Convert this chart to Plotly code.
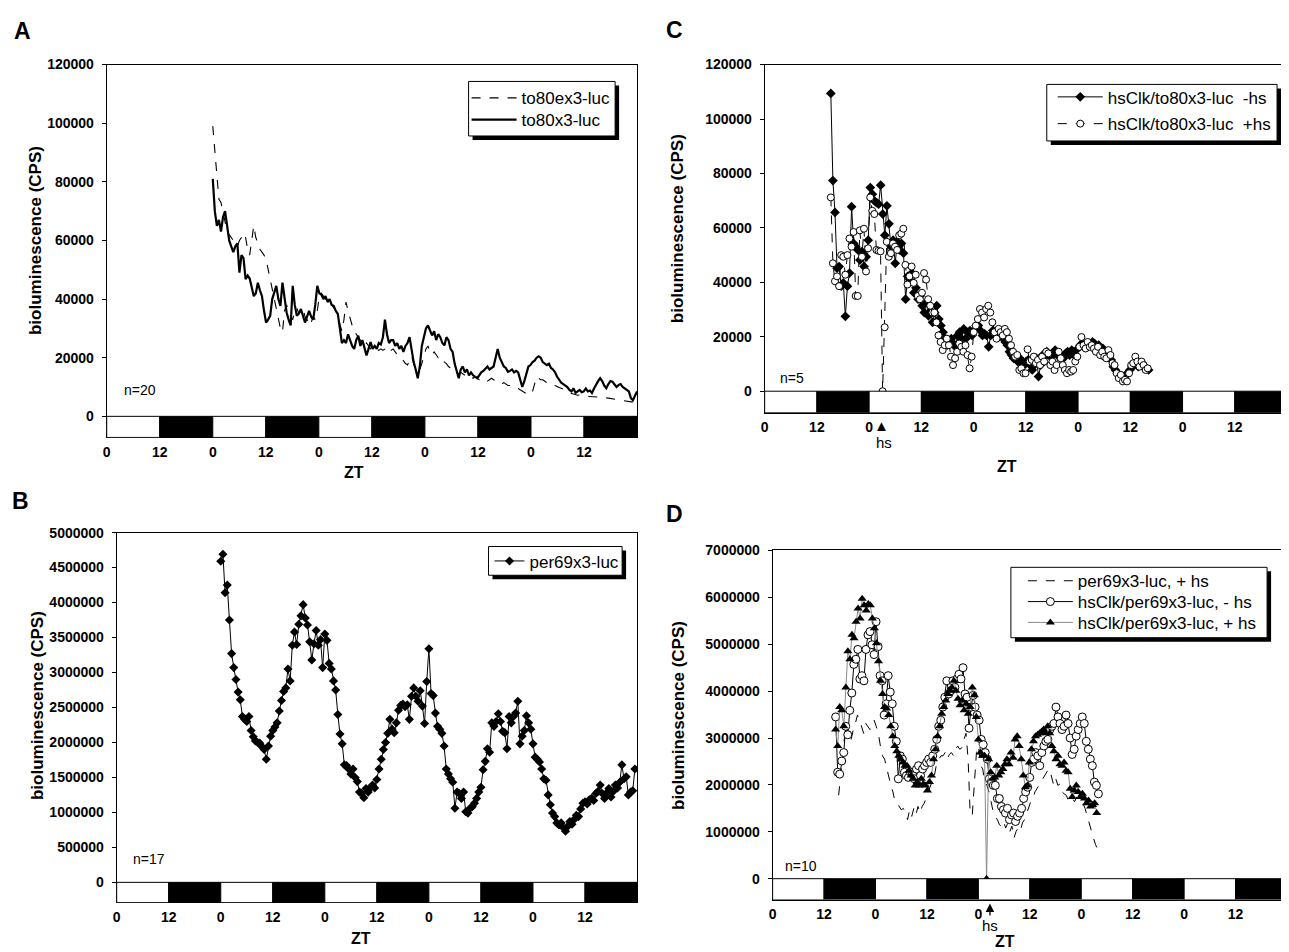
import numpy as np
import plotly.graph_objects as go

W, H = 1289, 952
OFF = 8  # default page margin of the written html

# ---------------- data ----------------
zt_tick_hours = [0, 12, 24, 36, 48, 60, 72, 84, 96, 108]
zt_tick_labels = ["0", "12", "0", "12", "0", "12", "0", "12", "0", "12"]
ld_edges = [0, 12, 24, 36, 48, 60, 72, 84, 96, 108, 120]
ld_fill = ["white", "black"] * 5

# Panel A (x1000 CPS), evenly sampled from hour 24 to 120
a_span = (24, 120)
a_to80ex3 = [99, 90, 80, 74, 73, 70, 66, 63, 62, 61,
             60, 59, 58, 60, 61, 62.5, 61, 57, 55, 60,
             65, 61, 59, 57, 56, 55, 53.5, 50, 46.8, 43,
             40, 37, 33, 30, 28.7, 36, 38, 36, 34, 33,
             36, 37, 35, 36, 37, 34, 33, 31, 32, 34,
             33, 36, 41, 42, 41, 40, 40, 39, 38, 37,
             36, 34, 31, 29, 33, 39, 36, 33, 31, 29,
             28, 27, 26, 25, 24, 25, 24, 23, 24, 23.5,
             23, 22.5, 23, 22.5, 23, 24, 23, 22.5, 23, 22,
             21, 20, 19.5, 19, 18, 17.5, 19, 20.5, 18, 16,
             15.5, 16, 18, 21, 23, 24, 22, 21, 22, 21,
             20, 20.5, 19, 18.5, 18, 17, 16.5, 16, 15.5, 15,
             14.5, 15, 14.5, 14, 14.5, 14, 13.5, 13, 13.5, 13,
             12.5, 12.5, 12, 12.5, 12, 12.5, 13, 12.5, 12, 12,
             11.5, 11, 11.5, 11, 10.5, 10.5, 10, 10, 9.5, 9.5,
             9, 8.5, 8, 7.5, 7.3, 7.5, 8.5, 11, 13.5, 13,
             12.5, 12.5, 12, 11.5, 11.5, 11, 10.5, 10.5, 10, 9.8,
             9.6, 9.3, 9, 8.5, 8, 7.8, 7.5, 7.3, 7.2, 7.3,
             7.0, 6.9, 6.8, 6.8, 6.8, 6.7, 6.7, 6.6, 6.6, 6.5,
             6.5, 6.4, 6.3, 6.2, 6.1, 6.0, 5.9, 5.8, 5.7, 5.6,
             5.5, 5.4, 5.3, 5.2, 5.1, 5.0, 4.8, 4.6]
a_to80x3 = [81, 70, 65, 67, 63, 68, 70, 64, 60, 58,
            56, 58, 59, 49, 55, 54, 46.8, 48, 47, 44,
            41, 42, 45.6, 43, 41, 36, 32, 33, 34.3, 40,
            42, 44.5, 40, 37.7, 45.6, 40, 35.5, 33, 31, 44.5,
            38, 34.3, 35, 36.6, 34, 32, 34, 36, 34, 33,
            38, 44.5, 42, 41.5, 40, 41, 39, 40, 38, 37.7,
            36, 35, 30, 25, 26, 25, 28, 26, 24, 23,
            26, 27.5, 24, 26, 23, 20.8, 23, 25.3, 23, 24,
            23, 25, 24.5, 27, 33, 28, 25, 26, 26, 24,
            25, 23, 24, 22, 24, 25, 27, 22, 18.6, 16,
            13, 17, 24, 27, 30, 31, 29, 27.6, 29, 26,
            28, 27, 25, 24.2, 27, 26, 23, 22, 18, 15,
            13, 16, 17, 15, 16, 14, 15, 14, 13.5, 13,
            14, 15, 15.5, 16.3, 17, 16, 16.5, 17, 20, 23,
            20, 18.6, 17, 16.5, 15.2, 15.5, 16, 15, 15.5, 15,
            12, 10, 12, 15, 17, 17.5, 18.5, 19, 20, 20.5,
            20, 18.5, 18, 17.5, 18, 16.5, 16, 15, 13.5, 12.4,
            11.5, 11, 10.5, 10, 9, 8.5, 9.5, 8, 8.5, 9,
            8.2, 8.5, 9.5, 8.5, 8.8, 8, 9.5, 11, 12, 13,
            12, 10.5, 9.6, 11, 12, 11.8, 11, 10, 10.7, 11,
            10, 9.6, 9, 8.5, 6.2, 5.5, 7, 8.5]

# Panel B (x1e6 CPS), hour 24 onward every 0.5 h
b_start, b_step = 24, 0.5
b_per69 = [4.59, 4.69, 4.14, 4.25, 3.75, 3.27, 3.07, 2.90, 2.72, 2.61, 2.37, 2.33, 2.30, 2.37, 2.17, 2.08,
           2.02, 2.00, 1.99, 1.94, 1.90, 1.76,
           1.95, 2.09, 2.17, 2.22, 2.28, 2.45, 2.60, 2.73, 2.78, 3.05, 2.88, 3.39, 3.58, 3.40, 3.69, 3.81,
           3.97, 3.78, 3.68, 3.44, 3.18, 3.41, 3.60, 3.39, 3.47, 3.07, 3.55, 3.46, 3.13, 3.05, 2.88, 2.75,
           2.40, 2.12, 1.98, 1.68,
           1.67, 1.62, 1.55, 1.62, 1.50, 1.44, 1.29, 1.27, 1.21, 1.34, 1.29, 1.35, 1.39, 1.35, 1.47, 1.62,
           1.76, 1.90, 2.00, 2.13, 2.33, 2.19, 2.14, 2.28, 2.46, 2.53, 2.55, 2.51, 2.54, 2.33, 2.66, 2.78,
           2.66, 2.59, 2.74, 2.52, 2.27, 2.87, 3.34,
           2.70, 2.67, 2.42, 2.23, 2.19, 2.13, 1.95, 1.62, 1.55, 1.48, 1.43, 1.06, 1.29, 1.27, 1.20, 1.29,
           1.01, 0.99, 1.06, 1.08, 1.13, 1.20, 1.29, 1.36, 1.61, 1.73, 1.91, 1.86, 2.28, 2.23, 2.30, 2.41,
           2.30, 2.16, 2.14, 1.91, 2.37, 2.28, 2.37, 2.42, 2.59, 1.98, 2.09, 2.17, 2.38, 2.28, 2.19, 1.98,
           1.79, 1.76, 1.72, 1.62, 1.48, 1.46, 1.25, 1.11, 0.99, 0.94, 0.85, 0.82, 0.85, 0.78, 0.73,
           0.80, 0.87, 0.83, 0.90, 0.96, 0.94, 1.05, 1.13, 1.15, 1.12, 1.18, 1.20, 1.17, 1.27, 1.30, 1.39,
           1.27, 1.20, 1.28, 1.34, 1.22, 1.30, 1.39, 1.35, 1.43, 1.68, 1.48, 1.51, 1.25, 1.29, 1.31, 1.62]

# Panel C (x1000 CPS), evenly sampled over the given hour spans
c_minus_span = (15.2, 88.2)
c_minus = [109.4, 77.4, 65.7, 45.2, 45.8, 38.6, 39.8, 27.5, 38.6, 43.4,
           67.8, 54.3, 53.1, 51.9, 48.2, 51.3, 45.8, 49.4, 55.5, 74.8,
           72.4, 69.9, 69.3, 68.7, 75.7, 65.1, 57.3, 68.1, 61.5, 53.1,
           55.5, 47.0, 54.9, 51.9, 54.3, 50.7, 33.8, 42.2, 41.0, 43.4,
           36.2, 38.0, 33.8, 35.0, 31.4, 28.9, 32.6, 27.7, 29.5, 25.3,
           28.9, 31.4, 26.5, 24.1, 21.7, 19.3, 16.9, 18.1, 19.3, 17.5,
           16.3, 20.5, 21.7, 19.3, 22.9, 19.3, 21.7, 22.3, 20.5, 22.3,
           24.1, 24.1, 22.3, 20.5, 21.1, 20.5, 16.3, 20.5, 22.3, 21.7,
           19.9, 21.7, 20.5, 19.3, 18.1, 16.9, 14.5, 13.3, 12.1, 12.7,
           10.9, 12.1, 10.3, 9.6, 10.9, 11.5, 9.6, 7.8, 9.6, 12.1,
           5.4, 9.6, 13.3, 12.7, 14.5, 13.3, 12.7, 13.9, 15.1, 13.3,
           13.9, 12.7, 12.1, 13.9, 14.5, 13.3, 15.1, 13.9, 12.7, 15.7,
           16.9, 17.5, 16.3, 16.9, 17.5, 16.9, 18.1, 17.5, 16.3, 16.9,
           15.7, 15.7, 14.5, 13.3, 12.7, 11.5, 9.0, 7.8, 6.6, 6.0,
           4.8, 5.4, 6.0, 6.6, 7.8, 9.0, 9.6, 10.3, 9.0, 9.6,
           10.3, 9.0, 8.4, 7.8]
c_plus_span = (15.2, 88.0)
c_plus = [71.2, 47.0, 40.4, 42.2, 38.6, 50.0, 49.4, 42.8, 50.0, 56.1,
          53.1, 58.5, 35.0, 35.0, 59.1, 49.4, 59.7, 44.0, 52.5, 71.2,
          66.3, 65.1, 51.9, 51.6, 51.4, 0, 23.5, 54.9, 49.4, 50.7,
          54.3, 53.1, 51.9, 57.3, 57.9, 59.7, 46.4, 39.2, 42.2, 45.8,
          39.8, 42.8, 35.0, 33.8, 36.2, 43.4, 41.0, 33.8, 31.4, 28.9,
          28.9, 25.3, 20.5, 18.1, 15.1, 16.9, 19.3, 16.9, 12.7, 9.6,
          12.1, 14.5, 17.5, 16.3, 14.5, 16.9, 13.3, 8.4, 12.7, 21.7,
          24.1, 26.5, 30.2, 28.9, 27.1, 30.2, 31.4, 28.9, 25.3, 21.7,
          19.3, 22.9, 21.7, 20.5, 22.9, 21.7, 19.3, 16.9, 14.5, 12.7,
          13.3, 7.8, 8.4, 6.6, 6.6, 15.4, 10.9, 11.5, 12.7, 10.3,
          11.5, 9.6, 12.7, 10.9, 14.5, 13.9, 9.6, 10.9, 7.8, 9.6,
          14.5, 12.1, 9.6, 7.8, 6.6, 7.8, 7.2, 7.8, 10.9, 12.7,
          16.3, 19.9, 16.9, 15.7, 18.1, 16.3, 16.9, 15.7, 14.5, 16.3,
          13.3, 14.5, 12.7, 12.1, 15.1, 13.3, 10.3, 9.6, 6.6, 4.8,
          6.0, 3.6, 4.2, 3.6, 6.6, 9.6, 10.3, 12.7, 10.9, 9.0,
          10.9, 9.6, 7.8, 8.4]

# Panel D (x1e6 CPS)
d_dash_span = (15.4, 75.8)
d_per69_hs = [1.78, 2.20, 2.62, 3.10, 3.25, 2.90, 2.97, 3.18, 3.31, 3.49,
              3.38, 3.25, 3.10, 3.31, 3.25, 3.18, 3.25, 3.38, 3.25, 3.10,
              2.83, 2.62, 2.55, 2.34, 2.20, 1.99, 1.85, 1.64, 1.61, 1.54,
              1.47, 1.50, 1.40, 1.26, 1.47, 1.33, 1.50, 1.36, 1.54, 1.40,
              1.54, 1.61, 1.74, 1.85, 1.99, 2.13, 2.23, 2.48, 2.55, 2.62,
              2.62, 2.69, 2.55, 2.65, 2.69, 2.62, 2.76, 2.83, 2.76, 2.79,
              2.97, 3.10, 2.55, 1.36, 1.36, 2.06, 2.69, 2.83, 2.41, 2.34,
              2.06, 1.99, 1.85, 1.64, 1.43, 1.33, 1.26, 1.15, 1.12, 1.22,
              1.08, 1.19, 1.01, 1.12, 0.87, 1.01, 1.08, 1.01, 1.19, 1.26,
              1.40, 1.50, 1.64, 1.71, 1.85, 1.92, 1.99, 2.06, 2.13, 2.20,
              2.30, 2.34, 2.13, 1.99, 2.13, 1.99, 2.02, 1.85, 1.81, 1.78,
              1.67, 1.64, 1.71, 1.64, 1.74, 1.71, 1.64, 1.61, 1.50, 1.33,
              1.15, 1.01, 0.87, 0.73, 0.63]
d_minus_span = (14.7, 76.0)
d_clk_minus = [3.45, 2.27, 2.23, 2.51, 2.69, 3.25, 3.07, 3.59, 3.96, 4.57,
               4.68, 4.89, 4.26, 4.33, 4.22, 4.89, 5.20, 5.27, 4.99, 4.78,
               5.48, 4.95, 4.33, 4.22, 3.49, 3.73, 4.33, 3.98, 3.73, 3.25,
               2.93, 2.13, 2.62, 2.55, 2.27, 2.20, 2.16, 2.27, 2.23, 2.13,
               2.34, 2.41, 2.20, 2.34, 2.41, 2.48, 2.55, 2.48, 2.62, 2.76,
               2.97, 3.25, 3.38, 3.66, 3.87, 4.22, 3.94, 4.01, 4.22, 4.08,
               4.26, 4.36, 4.26, 4.50, 3.94, 3.87, 3.21, 3.66, 3.91, 3.66,
               3.49, 3.38, 2.97, 2.86, 2.69, 2.55, 2.13, 2.06, 1.99, 1.99,
               1.71, 1.71, 1.54, 1.47, 1.40, 1.50, 1.26, 1.36, 1.40, 1.22,
               1.33, 1.40, 1.50, 1.71, 1.85, 1.95, 2.16, 2.48, 2.55, 2.69,
               2.62, 2.41, 2.69, 2.83, 2.93, 2.97, 3.18, 3.25, 3.31, 3.66,
               3.45, 3.31, 3.18, 3.25, 3.49, 3.31, 3.00, 2.65, 2.76, 3.04,
               3.18, 3.31, 3.45, 3.31, 2.93, 2.76, 2.55, 2.41, 2.06, 1.99,
               1.81]
d_plus_span = (14.7, 75.6)
d_clk_plus = [3.18, 2.83, 3.66, 3.59, 3.25, 4.08, 4.85, 4.68, 5.20, 5.13,
              5.48, 5.76, 5.55, 5.97, 5.83, 5.72, 5.86, 5.83, 5.55, 5.34,
              5.02, 4.64, 4.22, 3.94, 3.66, 3.63, 3.49, 3.25, 3.04, 2.83,
              2.72, 2.62, 2.55, 2.48, 2.41, 2.41, 2.30, 2.20, 2.13, 1.99,
              2.06, 1.99, 2.13, 2.02, 1.99, 1.88, 2.06, 2.20, 2.55, 2.76,
              3.04, 3.25, 3.52, 3.66, 3.80, 3.94, 4.01, 4.08, 4.22, 4.01,
              3.84, 3.70, 3.80, 3.59, 3.73, 3.52, 3.66, 4.08, 3.91, 3.45,
              2.97, 2.69, 2.62, 2.62, 0, 2.55, 2.27, 2.13, 2.16, 2.41,
              2.20, 2.27, 2.34, 2.44, 2.55, 2.44, 2.69, 2.58, 2.97, 3.04,
              2.83, 2.55, 2.20, 1.95, 1.99, 2.48, 2.76, 2.93, 3.04, 3.07,
              3.10, 3.14, 3.18, 3.10, 3.25, 3.10, 2.83, 2.72, 2.55, 2.62,
              2.44, 2.41, 2.48, 2.30, 2.27, 1.92, 1.74, 1.88, 1.99, 1.85,
              1.74, 1.81, 1.71, 1.61, 1.67, 1.54, 1.57, 1.61, 1.40]

# ---------------- helpers ----------------
FONT = "Liberation Sans, Arial, sans-serif"


def px_x(p):
    return (p - OFF) / W


def px_y(p):
    return 1 - (p - OFF) / H


def hours(span, n):
    return np.linspace(span[0], span[1], n)


fig = go.Figure()

# Panel A
fig.add_trace(go.Scatter(x=hours(a_span, len(a_to80ex3)), y=np.array(a_to80ex3) * 1e3,
                         mode="lines", name="to80ex3-luc", legend="legend", showlegend=True,
                         line=dict(color="black", width=1.1, dash="dash"), xaxis="x", yaxis="y"))
fig.add_trace(go.Scatter(x=hours(a_span, len(a_to80x3)), y=np.array(a_to80x3) * 1e3,
                         mode="lines", name="to80x3-luc", legend="legend2",
                         line=dict(color="black", width=2.2), xaxis="x", yaxis="y"))
# Panel B
fig.add_trace(go.Scatter(x=b_start + b_step * np.arange(len(b_per69)), y=np.array(b_per69) * 1e6,
                         mode="lines+markers", name="per69x3-luc", legend="legend3",
                         line=dict(color="black", width=1),
                         marker=dict(symbol="diamond", size=7, color="black"),
                         xaxis="x2", yaxis="y2"))
# Panel C
fig.add_trace(go.Scatter(x=hours(c_minus_span, len(c_minus)), y=np.array(c_minus) * 1e3,
                         mode="lines+markers", name="hsClk/to80x3-luc\u00a0\u00a0-hs",
                         legend="legend4",
                         line=dict(color="black", width=1),
                         marker=dict(symbol="diamond", size=7.5, color="black"),
                         xaxis="x3", yaxis="y3"))
fig.add_trace(go.Scatter(x=hours(c_plus_span, len(c_plus)), y=np.array(c_plus) * 1e3,
                         mode="lines+markers", name="hsClk/to80x3-luc\u00a0\u00a0+hs",
                         legend="legend5",
                         line=dict(color="black", width=1, dash="dash"),
                         marker=dict(symbol="circle", size=7, color="white",
                                     line=dict(color="black", width=1)),
                         xaxis="x3", yaxis="y3"))
# Panel D
fig.add_trace(go.Scatter(x=hours(d_dash_span, len(d_per69_hs)), y=np.array(d_per69_hs) * 1e6,
                         mode="lines", name="per69x3-luc, + hs", legend="legend6",
                         line=dict(color="black", width=1, dash="dash"),
                         xaxis="x4", yaxis="y4"))
fig.add_trace(go.Scatter(x=hours(d_minus_span, len(d_clk_minus)), y=np.array(d_clk_minus) * 1e6,
                         mode="lines+markers", name="hsClk/per69x3-luc, - hs", legend="legend7",
                         line=dict(color="black", width=1),
                         marker=dict(symbol="circle", size=8, color="white",
                                     line=dict(color="black", width=1)),
                         xaxis="x4", yaxis="y4"))
fig.add_trace(go.Scatter(x=hours(d_plus_span, len(d_clk_plus)), y=np.array(d_clk_plus) * 1e6,
                         mode="lines+markers", name="hsClk/per69x3-luc, + hs", legend="legend8",
                         line=dict(color="#8a8a8a", width=1),
                         marker=dict(symbol="triangle-up", size=8, color="black"),
                         xaxis="x4", yaxis="y4"))

# ---------------- axes ----------------
panels = {
    # name: (left, right, top, bottom px, yrange, ytick step)
    "1": (103, 635, 57, 433, [-7200, 120000], 20000),
    "2": (113, 635, 529, 902, [-288000, 5000000], 500000),
    "3": (763, 1287, 57, 408, [-7870, 120000], 20000),
    "4": (771, 1287, 547, 899, [-444000, 7000000], 1000000),
}
tickfont = dict(family=FONT, size=14, color="black", weight="bold")
layout_axes = {}
shapes = []
for k, (l, r, t, b, yr, step) in panels.items():
    xa = "xaxis" if k == "1" else "xaxis" + k
    ya = "yaxis" if k == "1" else "yaxis" + k
    xr = "x" if k == "1" else "x" + k
    yrf = "y" if k == "1" else "y" + k
    layout_axes[xa] = dict(domain=[px_x(l), px_x(r)], range=[0, 120], anchor=yrf,
                           tickvals=zt_tick_hours, ticktext=zt_tick_labels, ticks="",
                           showgrid=False, zeroline=False, showline=True, mirror=True,
                           linecolor="black", linewidth=1, tickfont=tickfont,
                           ticklabelstandoff=2)
    layout_axes[ya] = dict(domain=[px_y(b), px_y(t)], range=yr, anchor=xr,
                           tickvals=list(np.arange(0, yr[1] + 1, step)), tickformat="d",
                           ticks="outside", ticklen=4, tickwidth=1, tickcolor="black",
                           showgrid=False, zeroline=False, showline=True, mirror=True,
                           linecolor="black", linewidth=1, tickfont=tickfont,
                           ticklabelstandoff=5)
    for i in range(len(ld_fill)):
        shapes.append(dict(type="rect", xref=xr, yref=yrf, x0=ld_edges[i], x1=ld_edges[i + 1],
                           y0=yr[0], y1=0, fillcolor=ld_fill[i],
                           line=dict(color="black", width=1), layer="above"))

# legend frames (left, right, top, bottom px) with drop shadow
legend_frames = [(466, 613, 74, 129), (486, 620, 543, 572), (1046, 1277, 77, 134), (1010, 1267, 564, 635)]
for (l, r, t, b) in legend_frames:
    shapes.append(dict(type="rect", xref="paper", yref="paper",
                       x0=px_x(l + 4), x1=px_x(r + 4), y0=px_y(b + 4), y1=px_y(t + 4),
                       fillcolor="black", line=dict(width=0), layer="above"))
    shapes.append(dict(type="rect", xref="paper", yref="paper",
                       x0=px_x(l), x1=px_x(r), y0=px_y(b), y1=px_y(t),
                       fillcolor="white", line=dict(color="black", width=1), layer="above"))

# one legend per entry: (entry centre y, text start x, item width)
legend_entries = {
    "legend": (91, 519, 45), "legend2": (113, 519, 45),
    "legend3": (558, 527, 30),
    "legend4": (90, 1107, 45), "legend5": (117, 1107, 45),
    "legend6": (578, 1077, 45), "legend7": (599, 1077, 45), "legend8": (620, 1077, 45),
}
legends = {}
for name, (ey, tx, iw) in legend_entries.items():
    legends[name] = dict(x=px_x(tx - iw - 10), y=px_y(ey), xanchor="left", yanchor="middle",
                         bgcolor="rgba(0,0,0,0)", borderwidth=0,
                         font=dict(family=FONT, size=17, color="black"), itemwidth=iw)

# ---------------- annotations ----------------
ann = []


def label(txt, x, y, size, bold=False, angle=0):
    f = dict(family=FONT, size=size, color="black")
    if bold:
        f["weight"] = "bold"
    ann.append(dict(text=txt, x=px_x(x), y=px_y(y), xref="paper", yref="paper", showarrow=False,
                    xanchor="center", yanchor="middle", textangle=angle, font=f))


for txt, x, y in [("A", 19, 23), ("B", 17, 497), ("C", 673, 22), ("D", 673, 510)]:
    label(txt, x, y, 23, bold=True)
for x, y in [(31, 234), (33, 703), (675, 222), (676, 713)]:
    label("bioluminescence (CPS)", x, y, 17, bold=True, angle=-90)
for x, y in [(351, 468), (358, 938), (1006, 462), (1004, 941)]:
    label("ZT", x, y, 16, bold=True)
for txt, x, y in [("n=20", 136, 385), ("n=17", 145, 858), ("n=5", 790, 373), ("n=10", 799, 865)]:
    label(txt, x, y, 14)
# heat-shock markers
label("\u25B2", 880, 421, 15)
label("hs", 883, 438, 15)
ann.append(dict(text="hs", x=px_x(989), y=px_y(903), xref="paper", yref="paper",
                ax=0, ay=22, showarrow=True, arrowhead=2, arrowsize=1.3, arrowwidth=1.3,
                arrowcolor="black", standoff=0,
                font=dict(family=FONT, size=15, color="black")))

fig.update_layout(width=W, height=H, margin=dict(l=0, r=0, t=0, b=0),
                  paper_bgcolor="white", plot_bgcolor="white", showlegend=True,
                  font=dict(family=FONT, color="black"),
                  shapes=shapes, annotations=ann, **layout_axes, **legends)

fig.write_html("out.html")
